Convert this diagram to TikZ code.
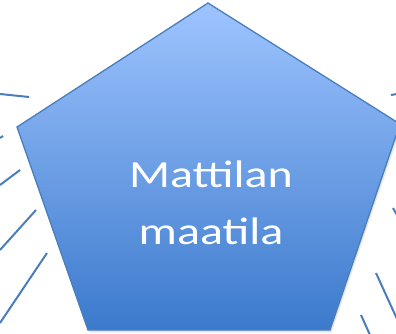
\documentclass[tikz,border=0pt]{standalone}
\usepackage{fontspec}
\setmainfont{Carlito}
\usetikzlibrary{shadows}
\definecolor{farmtop}{RGB}{158,196,255}
\definecolor{farmbottom}{RGB}{60,122,204}
\definecolor{farmline}{RGB}{74,126,187}

\begin{document}
\begin{tikzpicture}[x=1pt, y=-1pt,
  spoke/.style={draw=farmline, line width=2pt},
  farm/.style={draw=farmline, line width=1.3pt, top color=farmtop, bottom color=farmbottom,
    drop shadow={shadow xshift=1.5pt, shadow yshift=-2.5pt, opacity=0.2}},
  label/.style={text=white, align=center, font=\fontsize{48}{71}\selectfont, yscale=0.8}]
\useasboundingbox (0,0) rectangle (396,334);

% Viisikulmion kulmat
\coordinate (top) at (208,3);
\coordinate (right) at (400,124);
\coordinate (br) at (330,330);
\coordinate (bl) at (88,330);
\coordinate (left) at (17,127);

% Sakarat vasemmalla
\coordinate (l1a) at (0,94);   \coordinate (l1b) at (29,97);
\coordinate (l2a) at (0,138);  \coordinate (l2b) at (3,136);
\coordinate (l3a) at (0,185);  \coordinate (l3b) at (20,170);
\coordinate (l4a) at (0,250);  \coordinate (l4b) at (36,210);
\coordinate (l5a) at (0,323);  \coordinate (l5b) at (47,253);
% Sakarat oikealla
\coordinate (r1a) at (391,95);  \coordinate (r1b) at (397,94);
\coordinate (r2a) at (393,208); \coordinate (r2b) at (397,215);
\coordinate (r3a) at (376,273); \coordinate (r3b) at (397,319);
\coordinate (r4a) at (361,315); \coordinate (r4b) at (370,335);

\foreach \s in {l1,l2,l3,l4,l5,r1,r2,r3,r4}
  \draw[spoke] (\s a) -- (\s b);

\path[farm] (top) -- (right) -- (br) -- (bl) -- (left) -- cycle;
\node[label] (name) at (211,203) {Mattilan\\maatila};

\end{tikzpicture}
\end{document}
